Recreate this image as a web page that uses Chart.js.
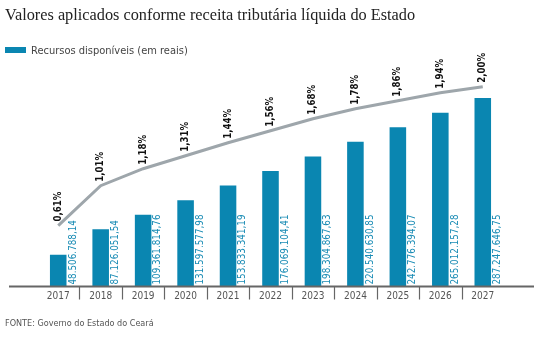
<!DOCTYPE html>
<html lang="pt-BR">
<head>
<meta charset="utf-8">
<script src="https://cdn.jsdelivr.net/npm/chart.js@4.4.1/dist/chart.umd.min.js"></script>
<style>
  html, body { margin: 0; padding: 0; background: #fff; }
  #wrap { position: relative; width: 541px; height: 338px; overflow: hidden; }
  #chart { position: absolute; left: 0; top: 0; }
  .title { position: absolute; left: 5px; top: 5px; font-family: "Liberation Serif", "DejaVu Serif", serif; font-size: 16.3px; color: #222; white-space: nowrap; }
  .legend { position: absolute; left: 5px; top: 44px; font-family: "DejaVu Sans Condensed", "DejaVu Sans", sans-serif; font-size: 11px; color: #444; white-space: nowrap; }
  .legend i { display: inline-block; width: 21px; height: 6px; background: #0a86b1; margin-right: 5px; vertical-align: 1px; }
  .source { position: absolute; left: 5px; top: 318px; font-family: "DejaVu Sans Condensed", "DejaVu Sans", sans-serif; font-size: 9px; color: #555; white-space: nowrap; }
</style>
</head>
<body>
<div id="wrap">
  <canvas id="chart" width="541" height="338"></canvas>
  <div class="title">Valores aplicados conforme receita tributária líquida do Estado</div>
  <div class="legend"><i></i>Recursos disponíveis (em reais)</div>
  <div class="source">FONTE: Governo do Estado do Ceará</div>
</div>
<script>
const years = ['2017', '2018', '2019', '2020', '2021', '2022', '2023', '2024', '2025', '2026', '2027'];
const recursos = [48506788.14, 87126051.54, 109361814.76, 131597577.98, 153833341.19, 176069104.41,
                  198304867.63, 220540630.85, 242776394.07, 265012157.28, 287247646.75];
const percentuais = [0.61, 1.01, 1.18, 1.31, 1.44, 1.56, 1.68, 1.78, 1.86, 1.94, 2.00];

const BAR_COLOR = '#0a86b1';
const LABEL_FONT = '"DejaVu Sans Condensed", "DejaVu Sans", sans-serif';

function formatReais(v) {
  const parts = v.toFixed(2).split('.');
  return parts[0].replace(/\B(?=(\d{3})+(?!\d))/g, '.') + ',' + parts[1];
}
function formatPct(v) {
  return v.toFixed(2).replace('.', ',') + '%';
}

// Baseline, category separators and rotated value labels
const decorations = {
  id: 'decorations',
  afterDatasetsDraw(chart) {
    const ctx = chart.ctx;
    const xs = chart.scales.x;
    const base = chart.scales.y.getPixelForValue(0);
    ctx.save();

    // separators between categories
    ctx.strokeStyle = '#666';
    ctx.lineWidth = 1.2;
    for (let i = 0; i < years.length - 1; i++) {
      const sx = Math.round((xs.getPixelForValue(i) + xs.getPixelForValue(i + 1)) / 2) + 0.5;
      ctx.beginPath();
      ctx.moveTo(sx, base);
      ctx.lineTo(sx, base + 13);
      ctx.stroke();
    }
    // baseline
    ctx.strokeStyle = '#666';
    ctx.lineWidth = 2;
    ctx.beginPath();
    ctx.moveTo(9, base);
    ctx.lineTo(534, base);
    ctx.stroke();

    // bar values, reading upward beside each bar
    const bars = chart.getDatasetMeta(0).data;
    ctx.fillStyle = '#1a8cb5';
    ctx.font = '9.8px ' + LABEL_FONT;
    ctx.textAlign = 'left';
    ctx.textBaseline = 'middle';
    bars.forEach((el, i) => {
      ctx.save();
      ctx.translate(el.x + el.width / 2 + 6.5, el.base - 2);
      ctx.rotate(-Math.PI / 2);
      ctx.fillText(formatReais(recursos[i]), 0, 0);
      ctx.restore();
    });

    // percentage labels above the line
    const pts = chart.getDatasetMeta(1).data;
    ctx.fillStyle = '#111';
    ctx.font = 'bold 9.6px ' + LABEL_FONT;
    pts.forEach((el, i) => {
      ctx.save();
      ctx.translate(el.x, el.y - 4);
      ctx.rotate(-Math.PI / 2);
      ctx.fillText(formatPct(percentuais[i]), 0, 0);
      ctx.restore();
    });
    ctx.restore();
  }
};

new Chart(document.getElementById('chart'), {
  data: {
    labels: years,
    datasets: [
      {
        type: 'bar',
        label: 'Recursos disponíveis (em reais)',
        data: recursos,
        backgroundColor: BAR_COLOR,
        categoryPercentage: 1,
        barPercentage: 0.39,
        yAxisID: 'y',
        order: 2
      },
      {
        type: 'line',
        label: 'Percentual',
        data: percentuais,
        borderColor: '#9ea6ab',
        borderWidth: 3,
        pointRadius: 0,
        tension: 0,
        fill: false,
        yAxisID: 'y1',
        order: 1
      }
    ]
  },
  options: {
    responsive: false,
    animation: false,
    layout: { padding: { left: 37, right: 37, top: 60, bottom: 31.5 } },
    plugins: { legend: { display: false }, tooltip: { enabled: false } },
    scales: {
      x: {
        offset: true,
        grid: { display: false, drawTicks: false },
        border: { display: false },
        ticks: {
          color: '#555',
          padding: 4,
          font: { family: LABEL_FONT, size: 10 },
          maxRotation: 0,
          autoSkip: false
        }
      },
      y: { display: false, min: 0, max: 345300000 },
      y1: { display: false, min: 0, max: 2.269 }
    }
  },
  plugins: [decorations]
});
</script>
</body>
</html>
